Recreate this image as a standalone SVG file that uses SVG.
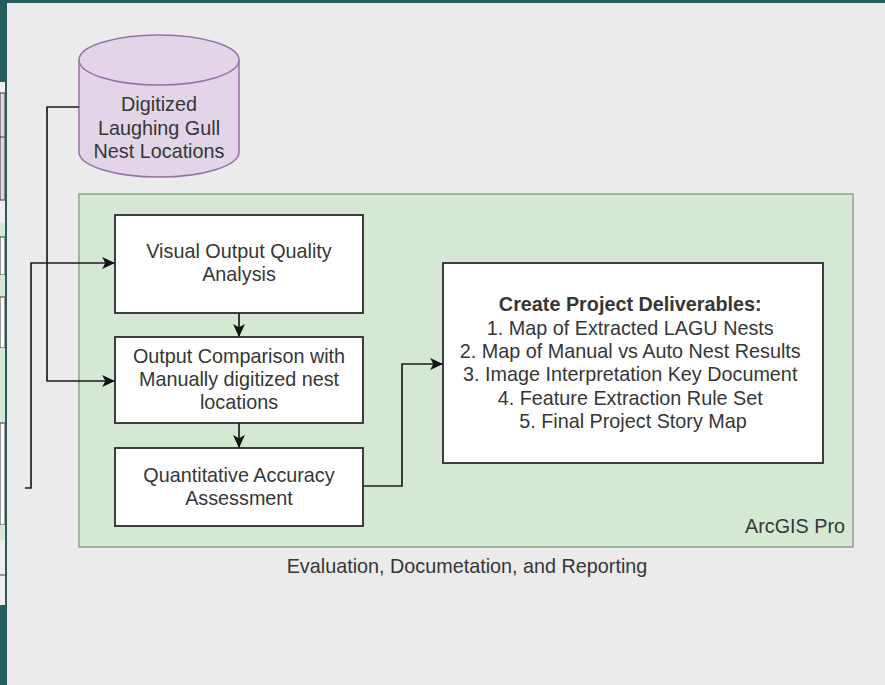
<svg xmlns="http://www.w3.org/2000/svg" width="885" height="685" viewBox="0 0 885 685">
  <style>
    .lbl { font-family: "Liberation Sans", Arial, sans-serif; font-size: 19.8px; fill: #363636; text-anchor: middle; }
    .bold { font-weight: bold; }
    .box { fill: #ffffff; stroke: #2b2b2b; stroke-width: 1.8; }
    .edge { fill: none; stroke: #1e1e1e; stroke-width: 1.7; }
    .cell { stroke: #3a3a3a; stroke-width: 1; }
  </style>
  <defs>
    <marker id="arrow" viewBox="0 0 12 12" refX="11" refY="6" markerWidth="13" markerHeight="13" markerUnits="userSpaceOnUse" orient="auto">
      <path d="M0,0.5 L12,6 L0,11.5 L3,6 Z" fill="#111111"/>
    </marker>
  </defs>

  <!-- window frame -->
  <rect x="0" y="0" width="885" height="685" fill="#245e5c"/>
  <rect x="7" y="3" width="878" height="682" fill="#ebebeb"/>

  <!-- neighbouring panel peeking in on the left -->
  <g id="side-panel">
    <rect x="0" y="82" width="5" height="523" fill="#eeeeee"/>
    <rect x="0" y="93" width="5" height="107" fill="#e1d5e7" class="cell"/>
    <line x1="0" y1="137" x2="5" y2="137" class="cell"/>
    <rect x="0" y="223" width="5" height="14" fill="#d5e8d4"/>
    <rect x="0" y="237" width="5" height="38" fill="#ffffff" class="cell"/>
    <rect x="0" y="275" width="5" height="22" fill="#d5e8d4"/>
    <rect x="0" y="297" width="5" height="51" fill="#ffffff" class="cell"/>
    <rect x="0" y="348" width="5" height="75" fill="#d5e8d4"/>
    <rect x="0" y="423" width="5" height="102" fill="#ffffff" class="cell"/>
    <rect x="0" y="525" width="5" height="15" fill="#d5e8d4"/>
    <line x1="0" y1="575" x2="5" y2="575" stroke="#777777" stroke-width="1.5"/>
    <rect x="5" y="0" width="2" height="685" fill="#245e5c"/>
  </g>

  <!-- swimlane container -->
  <g id="arcgis-pro">
    <rect x="79" y="194" width="774" height="353" fill="#d5e8d4" stroke="#8aa486" stroke-width="1.5"/>
    <text x="845" y="533" class="lbl" style="text-anchor: end">ArcGIS Pro</text>
  </g>
  <g id="stage-title">
    <text x="467" y="573" class="lbl">Evaluation, Documetation, and Reporting</text>
  </g>

  <!-- data store -->
  <g id="nest-locations">
    <path d="M79,60 A80,25 0 0 1 239,60 V152 A80,25 0 0 1 79,152 Z" fill="#e1d5e7" stroke="#9673a6" stroke-width="1.5"/>
    <path d="M79,60 A80,25 0 0 0 239,60" fill="none" stroke="#9673a6" stroke-width="1.5"/>
    <text class="lbl"><tspan x="159" y="111">Digitized</tspan><tspan x="159" y="135">Laughing Gull</tspan><tspan x="159" y="158">Nest Locations</tspan></text>
  </g>

  <!-- process steps -->
  <g id="visual-analysis">
    <rect x="115" y="215" width="248" height="98" class="box"/>
    <text class="lbl"><tspan x="239" y="258">Visual Output Quality</tspan><tspan x="239" y="281">Analysis</tspan></text>
  </g>
  <g id="output-comparison">
    <rect x="115" y="337" width="248" height="86" class="box"/>
    <text class="lbl"><tspan x="239" y="363">Output Comparison with</tspan><tspan x="239" y="386">Manually digitized nest</tspan><tspan x="239" y="409">locations</tspan></text>
  </g>
  <g id="accuracy-assessment">
    <rect x="115" y="448" width="248" height="78" class="box"/>
    <text class="lbl"><tspan x="239" y="482">Quantitative Accuracy</tspan><tspan x="239" y="505">Assessment</tspan></text>
  </g>
  <g id="deliverables">
    <rect x="443" y="263" width="380" height="200" class="box"/>
    <text class="lbl">
      <tspan x="633" y="311" class="bold">Create Project Deliverables:</tspan>
      <tspan x="633" y="334.5">1. Map of Extracted LAGU Nests</tspan>
      <tspan x="633" y="358">2. Map of Manual vs Auto Nest Results</tspan>
      <tspan x="633" y="381">3. Image Interpretation Key Document</tspan>
      <tspan x="633" y="404.5">4. Feature Extraction Rule Set</tspan>
      <tspan x="633" y="428">5. Final Project Story Map</tspan>
    </text>
  </g>

  <!-- connectors -->
  <g id="connectors">
    <path d="M25,488 H31 V263 H114" class="edge" marker-end="url(#arrow)"/>
    <path d="M79,107 H47 V381 H114" class="edge" marker-end="url(#arrow)"/>
    <path d="M239,313 V336" class="edge" marker-end="url(#arrow)"/>
    <path d="M239,423 V447" class="edge" marker-end="url(#arrow)"/>
    <path d="M363,486 H402 V364 H442" class="edge" marker-end="url(#arrow)"/>
  </g>
</svg>
